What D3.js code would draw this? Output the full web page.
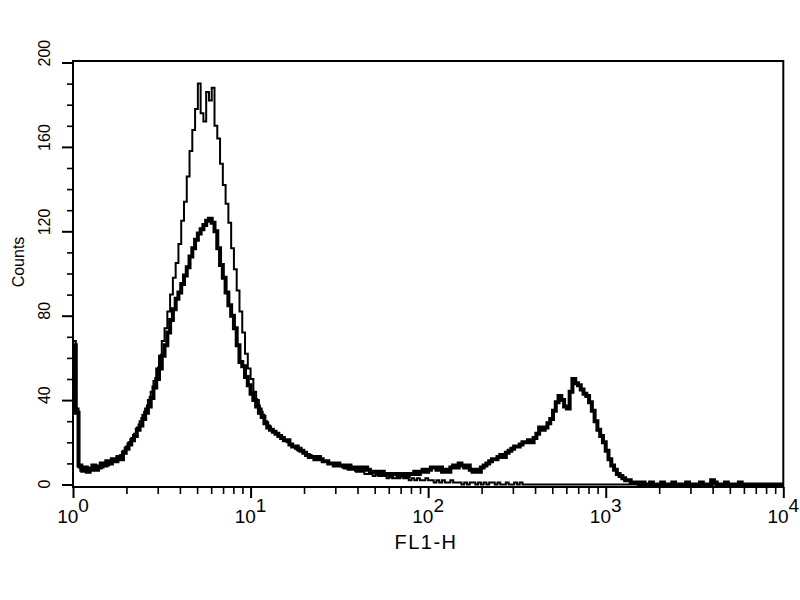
<!DOCTYPE html>
<html><head><meta charset="utf-8">
<script src="https://cdn.jsdelivr.net/npm/d3@7"></script>
<style>
body{margin:0;background:#fff}
svg{display:block}
text{font-family:"Liberation Sans",Arial,Helvetica,sans-serif;fill:#000}
</style>
</head><body>
<svg id="chart" width="800" height="600"></svg>
<script>
// ---- data ----
const xDomain = [1, 10000];
const yDomain = [0, 200];
const channelsPerDecade = 64;

// control (thin line), 256 log channels from 10^0 to 10^4
const controlCounts = [
  68,36,8,6,7,6,8,7,8,9,8,10,9,11,12,11,
  13,14,16,18,20,22,24,27,30,33,36,40,44,49,55,61,
  68,74,82,90,98,105,114,125,134,146,158,168,178,190,176,172,
  186,182,188,170,164,152,142,133,124,112,102,92,82,72,62,55,
  50,44,40,36,33,30,28,26,25,24,23,22,21,20,19,18,
  17,16,16,15,14,14,13,13,12,12,11,11,10,10,9,9,
  9,8,8,7,7,7,6,6,6,5,5,5,4,5,4,4,
  4,3,4,3,3,3,4,3,3,2,3,2,3,2,2,3,
  2,2,1,2,1,2,1,1,2,1,1,1,0,1,0,1,
  1,0,1,0,1,0,1,1,0,1,0,0,1,0,0,1,
  0,1,0,0,0,0,0,0,0,0,0,0,0,0,0,0,
  0,0,0,0,0,0,0,0,0,0,0,0,0,0,0,0,
  0,0,0,0,0,0,0,0,0,0,0,0,0,0,0,0,
  0,0,0,0,0,0,0,0,0,0,0,0,0,0,0,0,
  0,0,0,0,0,0,0,0,0,0,0,0,0,0,0,0,
  0,0,0,0,0,0,0,0,0,0,0,0,0,0,0,0
];

// sample (thick line)
const sampleCounts = [
  66,34,9,7,8,6,7,9,7,8,10,9,11,10,12,11,
  13,12,15,17,19,21,23,26,28,31,34,37,41,46,50,55,
  61,66,72,78,83,88,91,95,99,103,108,112,116,119,121,123,
  125,126,124,120,112,104,98,91,85,80,74,66,58,56,51,47,
  43,40,37,34,32,29,27,26,25,24,23,22,21,21,19,18,
  18,17,16,15,14,13,13,12,13,12,11,11,10,10,9,10,
  9,9,8,9,8,8,7,8,7,8,7,6,6,6,5,6,
  5,5,4,5,5,4,5,5,4,5,5,6,5,6,7,6,
  7,8,8,7,8,6,7,6,8,9,8,10,9,8,9,7,
  6,7,6,8,9,10,11,12,12,13,14,13,15,16,17,18,
  18,19,20,20,21,20,22,24,27,26,27,29,31,35,39,42,
  40,37,36,44,50,48,47,45,43,42,39,35,30,26,23,20,
  16,12,9,7,5,4,3,2,2,1,1,1,0,1,0,0,
  1,0,0,0,1,0,0,0,1,0,0,0,0,1,0,0,
  0,0,1,0,0,0,2,1,0,0,0,1,0,0,0,0,
  1,0,0,0,0,0,0,0,0,0,0,0,0,0,0,0
];

const xMajorTicks = [1, 10, 100, 1000, 10000];
const xTickExponents = ["0", "1", "2", "3", "4"];
const xMinorTicks = [2,3,4,5,6,7,8,9, 20,30,40,50,60,70,80,90,
                     200,300,400,500,600,700,800,900, 2000,3000,4000,5000,6000,7000,8000,9000];
const yMajorTicks = [0, 40, 80, 120, 160, 200];
const yTickLabels = ["0", "40", "80", "120", "160", "200"];
const yMinorTicks = [10,20,30,50,60,70,90,100,110,130,140,150,170,180,190];
const xAxisTitle = "FL1-H";
const yAxisTitle = "Counts";

// ---- drawing ----
const svg = d3.select("#chart");
const x = d3.scaleLog().domain(xDomain).range([73, 783.3]);
const y = d3.scaleLinear().domain(yDomain).range([484.5, 62.5]);
const frameTop = 61, frameBottom = 487;

function toSteps(counts) {
  const pts = counts.map((c, i) => ({ lo: Math.pow(10, i / channelsPerDecade), c }));
  pts.push({ lo: xDomain[1], c: counts[counts.length - 1] });
  return pts;
}
const line = d3.line()
  .x(d => x(d.lo))
  .y(d => y(d.c))
  .curve(d3.curveStepAfter);

svg.append("path")
  .datum(toSteps(controlCounts))
  .attr("d", line)
  .attr("fill", "none")
  .attr("stroke", "#000")
  .attr("stroke-width", 2);

svg.append("path")
  .datum(toSteps(sampleCounts))
  .attr("d", line)
  .attr("fill", "none")
  .attr("stroke", "#000")
  .attr("stroke-width", 4)
  .attr("stroke-linejoin", "miter");

// frame
svg.append("rect")
  .attr("x", x(xDomain[0]))
  .attr("y", frameTop)
  .attr("width", x(xDomain[1]) - x(xDomain[0]))
  .attr("height", frameBottom - frameTop)
  .attr("fill", "none")
  .attr("stroke", "#000")
  .attr("stroke-width", 2);

// x axis ticks
svg.append("g")
  .attr("transform", `translate(0,${frameBottom})`)
  .call(d3.axisBottom(x).tickValues(xMajorTicks).tickSize(11).tickFormat(""))
  .call(g => g.select(".domain").remove())
  .call(g => g.selectAll("line").attr("stroke-width", 2));
svg.append("g")
  .attr("transform", `translate(0,${frameBottom})`)
  .call(d3.axisBottom(x).tickValues(xMinorTicks).tickSize(7).tickFormat(""))
  .call(g => g.select(".domain").remove())
  .call(g => g.selectAll("line").attr("stroke-width", 1.6));

// y axis ticks
svg.append("g")
  .attr("transform", `translate(${x(xDomain[0])},0)`)
  .call(d3.axisLeft(y).tickValues(yMajorTicks).tickSize(11).tickFormat(""))
  .call(g => g.select(".domain").remove())
  .call(g => g.selectAll("line").attr("stroke-width", 2));
svg.append("g")
  .attr("transform", `translate(${x(xDomain[0])},0)`)
  .call(d3.axisLeft(y).tickValues(yMinorTicks).tickSize(6).tickFormat(""))
  .call(g => g.select(".domain").remove())
  .call(g => g.selectAll("line").attr("stroke-width", 1.6));

// x tick labels 10^n
const xl = svg.append("g").selectAll("text")
  .data(xMajorTicks)
  .join("text")
  .attr("x", d => x(d))
  .attr("y", 523)
  .attr("text-anchor", "middle")
  .attr("font-size", 19);
xl.append("tspan").text("10");
xl.append("tspan").attr("dy", -11).text((d, i) => xTickExponents[i]);

// y tick labels (rotated)
svg.append("g").selectAll("text")
  .data(yMajorTicks)
  .join("text")
  .attr("transform", d => `translate(50,${y(d) + 4}) rotate(-90)`)
  .attr("text-anchor", "start")
  .attr("font-size", 16)
  .text((d, i) => yTickLabels[i]);

// axis titles
svg.append("text")
  .attr("transform", "translate(24,262) rotate(-90)")
  .attr("text-anchor", "middle")
  .attr("font-size", 16)
  .text(yAxisTitle);

svg.append("text")
  .attr("x", 426)
  .attr("y", 549)
  .attr("text-anchor", "middle")
  .attr("font-size", 20)
  .attr("letter-spacing", 1.5)
  .text(xAxisTitle);
</script>
</body></html>
